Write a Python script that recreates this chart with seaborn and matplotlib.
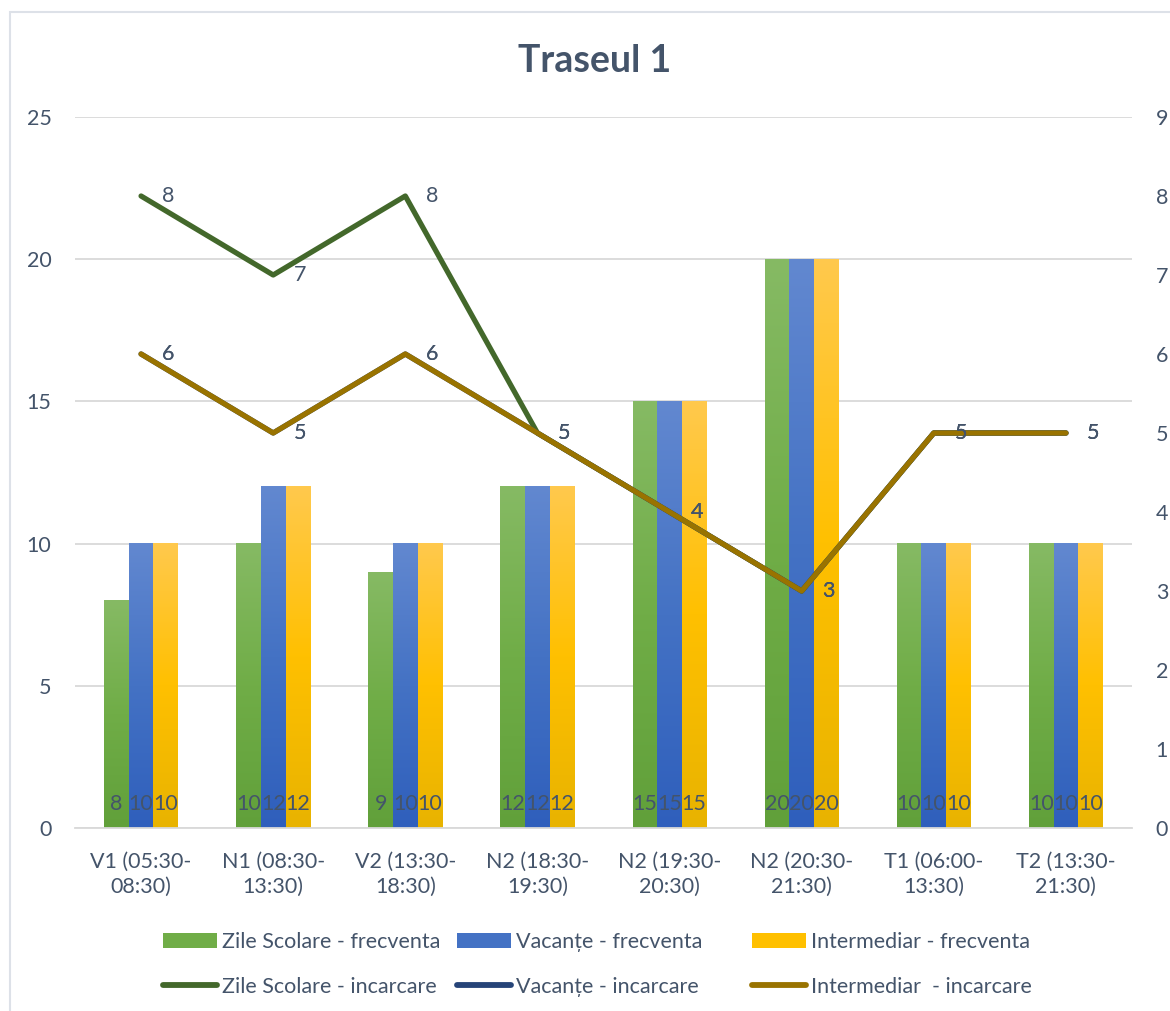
import numpy as np
import pandas as pd
import matplotlib
matplotlib.use("Agg")
import matplotlib.pyplot as plt
import seaborn as sns
from matplotlib.colors import LinearSegmentedColormap
from matplotlib.patches import Rectangle, Patch
from matplotlib.lines import Line2D

# ---- data -------------------------------------------------------------
categories = [
    "V1 (05:30-\n08:30)", "N1 (08:30-\n13:30)", "V2 (13:30-\n18:30)",
    "N2 (18:30-\n19:30)", "N2 (19:30-\n20:30)", "N2 (20:30-\n21:30)",
    "T1 (06:00-\n13:30)", "T2 (13:30-\n21:30)",
]
bar_series = ["Zile Scolare - frecventa", "Vacanțe - frecventa", "Intermediar - frecventa"]
line_series = ["Zile Scolare - incarcare", "Vacanțe - incarcare", "Intermediar  - incarcare"]

zile_frecventa = [8, 10, 9, 12, 15, 20, 10, 10]
vacante_frecventa = [10, 12, 10, 12, 15, 20, 10, 10]
intermediar_frecventa = [10, 12, 10, 12, 15, 20, 10, 10]

zile_incarcare = [8, 7, 8, 5, 4, 3, 5, 5]
vacante_incarcare = [6, 5, 6, 5, 4, 3, 5, 5]
intermediar_incarcare = [6, 5, 6, 5, 4, 3, 5, 5]

left_ticks = [0, 5, 10, 15, 20, 25]
right_ticks = [0, 1, 2, 3, 4, 5, 6, 7, 8, 9]

# ---- style ------------------------------------------------------------
sns.set_theme(style="white")
plt.rcParams["font.family"] = ["Lato", "DejaVu Sans"]
TEXT = "#44546A"
GRID = "#D9D9D9"
FS = 15.5

bar_colors = ["#70AD47", "#4472C4", "#FFC000"]
bar_gradients = [
    ["#86BA64", "#70AD47", "#61A03A"],
    ["#6288D0", "#4472C4", "#2F5FBC"],
    ["#FFC94D", "#FFC000", "#E8B300"],
]
line_colors = ["#43682B", "#264478", "#997300"]

bars_df = pd.DataFrame({
    "categorie": categories * 3,
    "serie": np.repeat(bar_series, len(categories)),
    "valoare": zile_frecventa + vacante_frecventa + intermediar_frecventa,
})
lines_df = pd.DataFrame({
    "pozitie": np.tile(np.arange(len(categories)), 3),
    "serie": np.repeat(line_series, len(categories)),
    "valoare": zile_incarcare + vacante_incarcare + intermediar_incarcare,
})

W, H = 1170, 1011
fig = plt.figure(figsize=(W / 100, H / 100), dpi=100)
ax = fig.add_axes([75 / W, 183 / H, 1057 / W, 711 / H])

sns.barplot(
    data=bars_df, x="categorie", y="valoare", hue="serie",
    order=categories, hue_order=bar_series,
    palette=dict(zip(bar_series, bar_colors)),
    width=0.56, gap=0, saturation=1, legend=False, ax=ax,
)
ax.set_xlim(-0.5, len(categories) - 0.5)
ax.set_ylim(0, 25)

# vertical shading on each bar + value label at its base
for k, container in enumerate(ax.containers):
    cmap = LinearSegmentedColormap.from_list(f"g{k}", bar_gradients[k])
    grad = np.linspace(0, 1, 256).reshape(-1, 1)
    for rect in container.patches:
        x0, w, h = rect.get_x(), rect.get_width(), rect.get_height()
        ax.imshow(grad, cmap=cmap, extent=[x0, x0 + w, 0, h], origin="upper",
                  aspect="auto", zorder=rect.get_zorder(), interpolation="bilinear")
        rect.set_facecolor("none")
        rect.set_edgecolor("none")
        ax.annotate(f"{h:g}", (x0 + w / 2, 0), xytext=(0, 10),
                    textcoords="offset points", ha="center", va="bottom",
                    fontsize=FS, color=TEXT, zorder=5)

ax.set_xlim(-0.5, len(categories) - 0.5)
ax.set_ylim(0, 25)
ax.set_yticks(left_ticks)
ax.yaxis.grid(True, color=GRID, lw=1.3)
ax.set_axisbelow(True)
for s in ["top", "right", "left"]:
    ax.spines[s].set_visible(False)
ax.spines["bottom"].set_color(GRID)
ax.spines["bottom"].set_linewidth(1.3)
ax.set_xlabel("")
ax.set_ylabel("")
ax.tick_params(axis="both", length=0, labelsize=FS, labelcolor=TEXT)
ax.tick_params(axis="y", pad=17)
ax.tick_params(axis="x", pad=17)
for lbl in ax.get_xticklabels():
    lbl.set_linespacing(1.35)

# secondary axis with the load lines
ax2 = ax.twinx()
sns.lineplot(
    data=lines_df, x="pozitie", y="valoare", hue="serie",
    hue_order=line_series, palette=dict(zip(line_series, line_colors)),
    lw=3.8, legend=False, sort=False, ax=ax2,
    solid_capstyle="round", solid_joinstyle="round",
)
ax2.set_ylim(0, 9)
ax2.set_yticks(right_ticks)
ax2.set_xlim(-0.5, len(categories) - 0.5)
ax2.set_xlabel("")
ax2.set_ylabel("")
for s in ax2.spines.values():
    s.set_visible(False)
ax2.tick_params(axis="y", length=0, labelsize=FS, labelcolor=TEXT, pad=17)
ax2.grid(False)

for serie, vals in zip(line_series, [zile_incarcare, vacante_incarcare, intermediar_incarcare]):
    for i, v in enumerate(vals):
        ax2.annotate(f"{v}", (i, v), xytext=(15, 0), textcoords="offset points",
                     ha="left", va="center", fontsize=FS, color=TEXT, zorder=6)

# title
fig.text(595 / W, 1 - 61 / H, "Traseul 1", ha="center", va="center",
         fontsize=27, fontweight="bold", color=TEXT)

# legend: three columns, bar entry above line entry
col_x = [163, 457, 752]
for k in range(3):
    handles = [
        Patch(facecolor=bar_colors[k], edgecolor="none"),
        Line2D([0], [0], color=line_colors[k], lw=4.2, solid_capstyle="round"),
    ]
    fig.legend(handles, [bar_series[k], line_series[k]],
               loc="center left", bbox_to_anchor=(col_x[k] / W, 1 - 964.5 / H),
               frameon=False, fontsize=FS, labelcolor=TEXT,
               handlelength=2.5, handleheight=0.75, handletextpad=0.25,
               labelspacing=1.15, borderpad=0, borderaxespad=0)

# chart frame
fig.add_artist(Rectangle((10 / W, -0.1), 1.2, (H - 12) / H + 0.1,
                         transform=fig.transFigure, fill=False,
                         edgecolor="#DDE1E8", lw=1.5))

fig.savefig("out.png", dpi=100, facecolor="white")
